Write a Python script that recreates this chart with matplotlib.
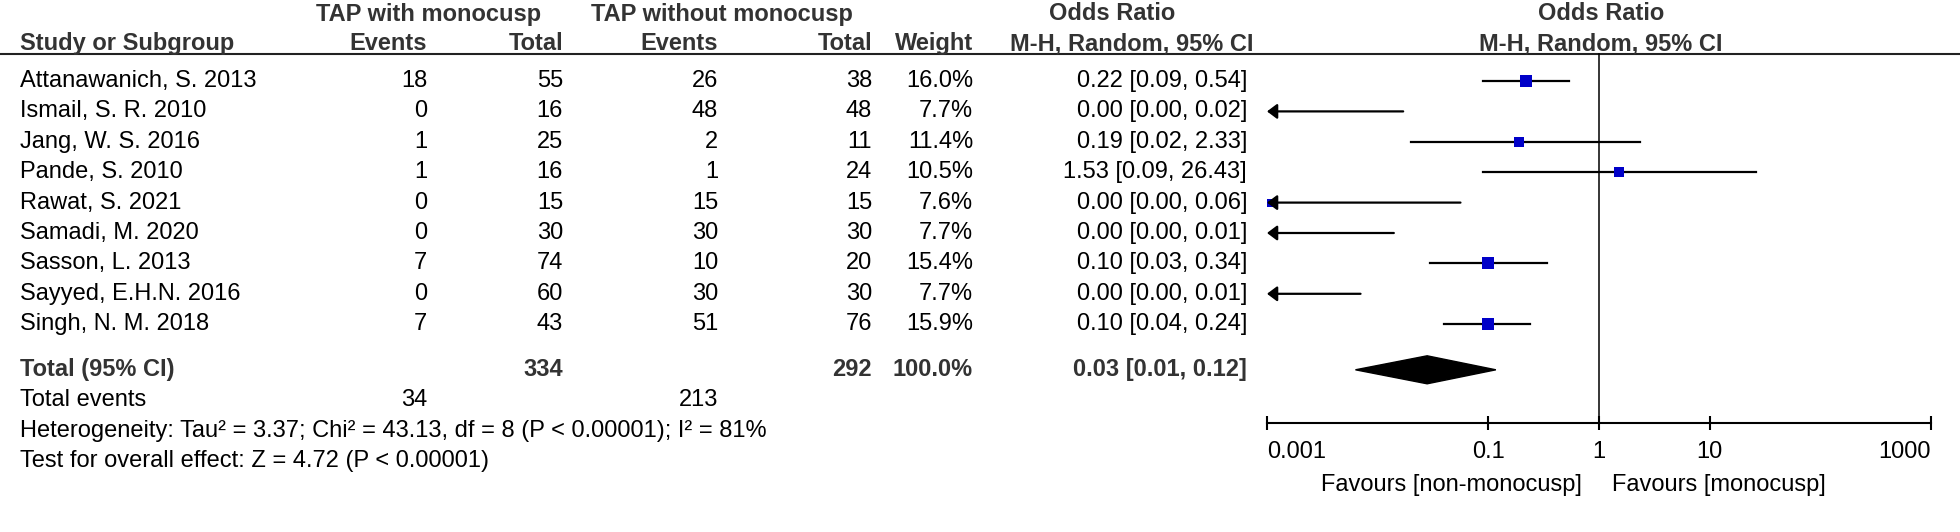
import matplotlib
matplotlib.use("Agg")
import matplotlib.pyplot as plt

plt.rcParams['font.family'] = ['Liberation Sans', 'DejaVu Sans']

# study data
studies = ["Attanawanich, S. 2013", "Ismail, S. R. 2010", "Jang, W. S. 2016",
           "Pande, S. 2010", "Rawat, S. 2021", "Samadi, M. 2020",
           "Sasson, L. 2013", "Sayyed, E.H.N. 2016", "Singh, N. M. 2018"]
ev_mono = [18, 0, 1, 1, 0, 0, 7, 0, 7]
tot_mono = [55, 16, 25, 16, 15, 30, 74, 60, 43]
ev_nomono = [26, 48, 2, 1, 15, 30, 10, 30, 51]
tot_nomono = [38, 48, 11, 24, 15, 30, 20, 30, 76]
weights = [16.0, 7.7, 11.4, 10.5, 7.6, 7.7, 15.4, 7.7, 15.9]
or_est = [0.22, 0.0003, 0.19, 1.53, 0.00104, 0.00027, 0.10, 0.00014, 0.10]
ci_lo = [0.09, 0.00001, 0.02, 0.09, 0.00002, 0.000005, 0.03, 0.000003, 0.04]
ci_hi = [0.54, 0.017, 2.33, 26.43, 0.056, 0.014, 0.34, 0.007, 0.24]
or_text = ["0.22 [0.09, 0.54]", "0.00 [0.00, 0.02]", "0.19 [0.02, 2.33]",
           "1.53 [0.09, 26.43]", "0.00 [0.00, 0.06]", "0.00 [0.00, 0.01]",
           "0.10 [0.03, 0.34]", "0.00 [0.00, 0.01]", "0.10 [0.04, 0.24]"]

# pooled result
total_mono, total_nomono = 334, 292
events_mono, events_nomono = 34, 213
pooled_or, pooled_lo, pooled_hi = 0.028, 0.0063, 0.117
pooled_text = "0.03 [0.01, 0.12]"

x_ticks = [0.001, 0.1, 1, 10, 1000]
x_ticklabels = ["0.001", "0.1", "1", "10", "1000"]

W, H = 1960, 532
fig = plt.figure(figsize=(W / 100, H / 100), dpi=100)
ax = fig.add_axes([0, 0, 1, 1])
ax.set_xlim(0, W)
ax.set_ylim(H, 0)
ax.axis('off')

FS = 17
bold = dict(fontsize=FS, fontweight='bold', color='#333333')
norm = dict(fontsize=FS, color='black')

# column right edges (pixels)
c_study = 20
c_ev1, c_tot1 = 427, 563
c_ev2, c_tot2 = 718, 872
c_wt = 973
c_or = 1247

line_y = 54
row0, pitch = 81, 30.4
rows = [row0 + i * pitch for i in range(len(studies))]
y_total = row0 + 9.5 * pitch
y_events = y_total + pitch
y_het = y_events + pitch
y_test = y_het + pitch
axis_y = 423

# headers
ax.text(429, 14, "TAP with monocusp", ha='center', va='center', **bold)
ax.text(722, 14, "TAP without monocusp", ha='center', va='center', **bold)
ax.text(1112, 14, "Odds Ratio", ha='center', va='center', **bold)
ax.text(1601, 14, "Odds Ratio", ha='center', va='center', **bold)
hb = line_y - 4
ax.text(c_study, hb, "Study or Subgroup", ha='left', va='baseline', **bold)
ax.text(c_ev1, hb, "Events", ha='right', va='baseline', **bold)
ax.text(c_tot1, hb, "Total", ha='right', va='baseline', **bold)
ax.text(c_ev2, hb, "Events", ha='right', va='baseline', **bold)
ax.text(c_tot2, hb, "Total", ha='right', va='baseline', **bold)
ax.text(c_wt, hb, "Weight", ha='right', va='baseline', **bold)
ax.text(1132, hb, "M-H, Random, 95% CI", ha='center', va='baseline', **bold)
ax.text(1601, hb, "M-H, Random, 95% CI", ha='center', va='baseline', **bold)
ax.plot([0, W], [line_y, line_y], color='#222222', lw=1.5)

# study rows
for i, y in enumerate(rows):
    ax.text(c_study, y, studies[i], ha='left', va='center', **norm)
    ax.text(c_ev1, y, str(ev_mono[i]), ha='right', va='center', **norm)
    ax.text(c_tot1, y, str(tot_mono[i]), ha='right', va='center', **norm)
    ax.text(c_ev2, y, str(ev_nomono[i]), ha='right', va='center', **norm)
    ax.text(c_tot2, y, str(tot_nomono[i]), ha='right', va='center', **norm)
    ax.text(c_wt, y, f"{weights[i]:.1f}%", ha='right', va='center', **norm)
    ax.text(c_or, y, or_text[i], ha='right', va='center', **norm)

# totals
ax.text(c_study, y_total, "Total (95% CI)", ha='left', va='center', **bold)
ax.text(c_tot1, y_total, str(total_mono), ha='right', va='center', **bold)
ax.text(c_tot2, y_total, str(total_nomono), ha='right', va='center', **bold)
ax.text(c_wt, y_total, "100.0%", ha='right', va='center', **bold)
ax.text(c_or, y_total, pooled_text, ha='right', va='center', **bold)
ax.text(c_study, y_events, "Total events", ha='left', va='center', **norm)
ax.text(c_ev1, y_events, str(events_mono), ha='right', va='center', **norm)
ax.text(c_ev2, y_events, str(events_nomono), ha='right', va='center', **norm)
ax.text(c_study, y_het,
        "Heterogeneity: Tau\u00b2 = 3.37; Chi\u00b2 = 43.13, df = 8 (P < 0.00001); I\u00b2 = 81%",
        ha='left', va='center', **norm)
ax.text(c_study, y_test, "Test for overall effect: Z = 4.72 (P < 0.00001)",
        ha='left', va='center', **norm)

# forest plot axes
ax_f = fig.add_axes([1267 / W, 0, 664 / W, 1])
ax_f.set_xscale('log')
ax_f.set_xlim(0.001, 1000)
ax_f.set_ylim(H, 0)
ax_f.patch.set_visible(False)
for s in ['top', 'right', 'left']:
    ax_f.spines[s].set_visible(False)
ax_f.spines['bottom'].set_position(('data', axis_y))
ax_f.spines['bottom'].set_linewidth(1.5)
ax_f.set_yticks([])
ax_f.set_xticks(x_ticks)
ax_f.set_xticklabels(x_ticklabels)
ax_f.minorticks_off()
ax_f.tick_params(axis='x', direction='inout', length=10, width=1.5,
                 labelsize=FS, pad=8)
labels = ax_f.get_xticklabels()
labels[0].set_ha('left')
labels[-1].set_ha('right')

ax_f.plot([1, 1], [line_y, axis_y], color='black', lw=1.1)

for i, y in enumerate(rows):
    if ci_lo[i] < 0.001:
        ax_f.annotate('', xy=(0.001, y), xytext=(ci_hi[i], y),
                      arrowprops=dict(arrowstyle='-|>,head_length=0.4,head_width=0.3',
                                      mutation_scale=15, color='black', lw=1.6,
                                      shrinkA=0, shrinkB=0),
                      annotation_clip=False)
    else:
        ax_f.plot([ci_lo[i], ci_hi[i]], [y, y], color='black', lw=1.6)
    # square side grows with study weight
    side = 3.0 * weights[i] ** 0.5 / 1.389
    ax_f.plot(or_est[i], y, marker='s', ms=side, color='#0000c8',
              markeredgewidth=0, linestyle='none')

dh = 14
ax_f.fill([pooled_lo, pooled_or, pooled_hi, pooled_or],
          [y_total, y_total - dh, y_total, y_total + dh], color='black')

ax.text(1582, 485, "Favours [non-monocusp]", ha='right', va='center', **norm)
ax.text(1612, 485, "Favours [monocusp]", ha='left', va='center', **norm)

fig.savefig("out.png", dpi=100)
